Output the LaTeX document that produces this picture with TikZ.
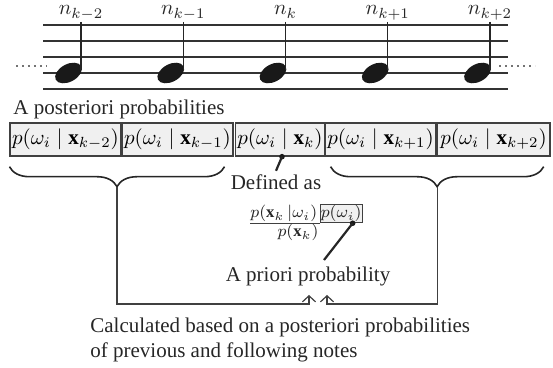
\RequirePackage{fix-cm}
\documentclass[tikz,border=0pt]{standalone}
\usepackage{fontspec}
\setmainfont{Liberation Serif}
\usetikzlibrary{positioning, arrows.meta, calc, decorations.pathreplacing}
\tikzset{
  staffline/.style={black!80, line width=0.65pt},
  ellipsis/.style={black!55, line width=0.8pt, dash pattern=on 0.8pt off 2.2pt},
  postbox/.style={draw=black!75, line width=0.7pt, fill=black!6, minimum height=16.5pt, inner xsep=1pt, inner ysep=0pt},
  priorbox/.style={draw=black!75, line width=0.5pt, fill=black!6, inner sep=0.3pt},
  pointer/.style={black!85, line width=1.1pt},
  bracket/.style={black!85, line width=0.8pt, decorate, decoration={brace, mirror, amplitude=10pt}},
  link/.style={black!75, line width=0.6pt},
  caption/.style={text=black!85, inner sep=0pt},
  smallmath/.style={font=\fontsize{8.3}{10}\selectfont, text=black!85},
}
\begin{document}
\begin{tikzpicture}[x=0.5pt, y=-0.5pt, font=\fontsize{10.5}{12.6}\selectfont]
  \useasboundingbox (0,0) rectangle (553,368);
  % staff and notes
  \foreach \y in {25,41,57,73,89}
    \draw[staffline] (43,\y) -- (508,\y);
  \draw[ellipsis] (16,66) -- (47,66);
  \draw[ellipsis] (499,66) -- (535,66);
  \foreach \i/\lab in {1/k-2, 2/k-1, 3/k, 4/k+1, 5/k+2} {
    \coordinate (stem\i) at ({81+102.25*(\i-1)},22);
    \coordinate (head\i) at ($(stem\i)+(-12.5,51)$);
    \fill[black!90, rotate around={28:(head\i)}] (head\i) ellipse [x radius=7.2pt, y radius=4.4pt];
    \draw[black!85, line width=0.65pt] (stem\i) -- ++(0,48);
    \node[text=black!85, anchor=base] (n\i) at ($(stem\i)+(0,-7)$) {$n_{\lab}$};
  }
  % a posteriori boxes
  \node[caption, anchor=base west] (posttitle) at (13,115) {A posteriori probabilities};
  \node[postbox, minimum width=52.5pt] (p1) at (65.5,139.5) {$p(\omega_i\mid\mathbf{x}_{k-2})$};
  \node[postbox, minimum width=54.5pt] (p2) at (177.5,139.5) {$p(\omega_i\mid\mathbf{x}_{k-1})$};
  \node[postbox, minimum width=44pt] (p3) at (280,139.5) {$p(\omega_i\mid\mathbf{x}_{k})$};
  \node[postbox, minimum width=52.5pt] (p4) at (380.5,139.5) {$p(\omega_i\mid\mathbf{x}_{k+1})$};
  \node[postbox, minimum width=56.5pt] (p5) at (493.5,139.5) {$p(\omega_i\mid\mathbf{x}_{k+2})$};
  % braces
  \coordinate (pastA) at ($(p1.south west)+(0,10)$);
  \coordinate (pastB) at ($(p2.south east)+(-9,10)$);
  \coordinate (nextA) at ($(p4.south west)+(6,10)$);
  \coordinate (nextB) at ($(p5.south east)+(-7,10)$);
  \draw[bracket] (pastA) -- (pastB);
  \draw[bracket] (nextA) -- (nextB);
  \coordinate (pastmid) at ($(pastA)!0.5!(pastB)+(0,20)$);
  \coordinate (nextmid) at ($(nextA)!0.5!(nextB)+(0,20)$);
  % definition
  \node[caption, inner sep=2pt, anchor=base] (defined) at (276,190) {Defined as};
  \coordinate (defdot) at ($(p3.south)+(2,0)$);
  \fill[black!90] (defdot) circle (1.4pt);
  \draw[pointer] (defdot) -- (defined.north);
  \node[smallmath, inner sep=0pt, anchor=base west] (num) at (250,218) {$p(\mathbf{x}_k\,|\omega_i)$};
  \node[smallmath, priorbox, right=1pt of num] (prior) {$p(\omega_i)$};
  \draw[link] (num.west |- prior.south) -- (prior.south west);
  \node[smallmath, inner sep=0pt, anchor=base] (den) at (298,237) {$p(\mathbf{x}_k)$};
  \node[caption, inner sep=3.5pt, anchor=base] (apriori) at (308,282) {A priori probability};
  \coordinate (priordot) at ($(prior.south east)+(-10,0)$);
  \fill[black!90] (priordot) circle (1.4pt);
  \draw[pointer] (priordot) -- ([xshift=8pt]apriori.north);
  % links from neighbouring notes
  \coordinate (floor) at (0,304);
  \coordinate (tipL) at (309,295);
  \coordinate (tipR) at (327,295);
  \draw[link, -{Straight Barb[length=3pt, width=6.5pt]}] (pastmid) -- (pastmid |- floor) -- (tipL |- floor) -- (tipL);
  \draw[link, -{Straight Barb[length=3pt, width=6.5pt]}] (nextmid) -- (nextmid |- floor) -- (tipR |- floor) -- (tipR);
  \node[caption, align=left, anchor=north west, font=\fontsize{10.5}{12.5}\selectfont] (calc) at (90,318)
    {Calculated based on a posteriori probabilities\\of previous and following notes};
\end{tikzpicture}
\end{document}
